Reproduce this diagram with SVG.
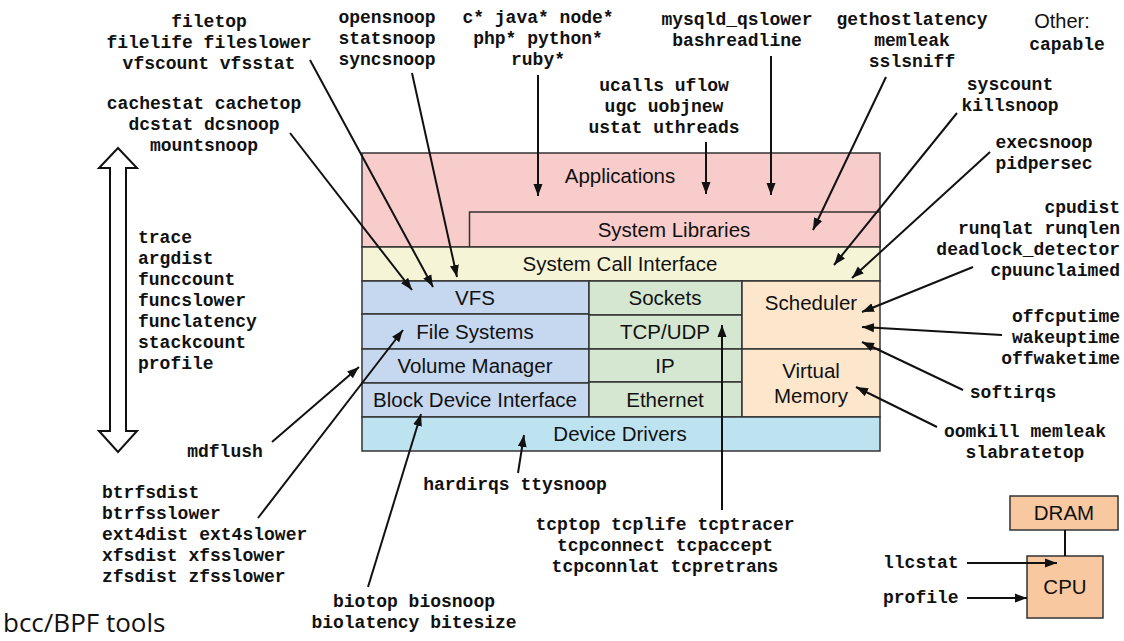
<svg xmlns="http://www.w3.org/2000/svg" width="1124" height="641" viewBox="0 0 1124 641">
<style>
.bx{stroke:#333;stroke-width:1.5}
.lb{font-family:"Liberation Sans",Arial,sans-serif;font-size:20.5px;fill:#111;text-anchor:middle}
.m{font-family:"Liberation Mono","Courier New",monospace;font-size:18px;font-weight:bold;fill:#111}
.c{text-anchor:middle}
.e{text-anchor:end}
.ln{stroke:#111;stroke-width:2;fill:none}
.ar{marker-end:url(#ah)}
</style>
<defs>
<marker id="ah" markerUnits="userSpaceOnUse" markerWidth="13" markerHeight="10" refX="12" refY="5" orient="auto">
<path d="M0,0.5 L12,5 L0,9.5 z" fill="#111"/>
</marker>
</defs>
<rect width="1124" height="641" fill="#fff"/>

<g id="applications"><rect class="bx" x="362" y="153" width="518" height="94" fill="#f8cccb"/><text class="lb" x="620" y="183">Applications</text></g>
<g id="system-libraries"><rect class="bx" x="469.5" y="212" width="410.5" height="35" fill="#f8cccb"/><text class="lb" x="674" y="237">System Libraries</text></g>
<g id="syscall"><rect class="bx" x="362" y="247" width="518" height="34" fill="#f6f4d6"/><text class="lb" x="620" y="271">System Call Interface</text></g>
<g id="vfs"><rect class="bx" x="362" y="281" width="227" height="33" fill="#c6d8ef"/><text class="lb" x="475" y="305">VFS</text></g>
<g id="filesystems"><rect class="bx" x="362" y="314" width="227" height="35" fill="#c6d8ef"/><text class="lb" x="475" y="339">File Systems</text></g>
<g id="volume-manager"><rect class="bx" x="362" y="349" width="227" height="34" fill="#c6d8ef"/><text class="lb" x="475" y="373">Volume Manager</text></g>
<g id="block-device"><rect class="bx" x="362" y="383" width="227" height="34" fill="#c6d8ef"/><text class="lb" x="475" y="407">Block Device Interface</text></g>
<g id="sockets"><rect class="bx" x="589" y="281" width="153" height="34" fill="#d5e7d0"/><text class="lb" x="665" y="305">Sockets</text></g>
<g id="tcpudp"><rect class="bx" x="589" y="315" width="153" height="34" fill="#d5e7d0"/><text class="lb" x="665" y="339">TCP/UDP</text></g>
<g id="ip"><rect class="bx" x="589" y="349" width="153" height="33" fill="#d5e7d0"/><text class="lb" x="665" y="373">IP</text></g>
<g id="ethernet"><rect class="bx" x="589" y="382" width="153" height="35" fill="#d5e7d0"/><text class="lb" x="665" y="407">Ethernet</text></g>
<g id="scheduler"><rect class="bx" x="742" y="281" width="138" height="68" fill="#fce6cc"/><text class="lb" x="811" y="310">Scheduler</text></g>
<g id="virtual-memory"><rect class="bx" x="742" y="349" width="138" height="68" fill="#fce6cc"/><text class="lb" x="811" y="378">Virtual</text><text class="lb" x="811" y="403">Memory</text></g>
<g id="device-drivers"><rect class="bx" x="362" y="417" width="518" height="34" fill="#bde3f1"/><text class="lb" x="620" y="441">Device Drivers</text></g>
<g id="dram"><rect class="bx" x="1010" y="496" width="108" height="34" fill="#f8c9a0"/><text class="lb" x="1064" y="520">DRAM</text></g>
<g id="cpu"><rect class="bx" x="1027" y="556" width="76" height="62" fill="#f8c9a0"/><text class="lb" x="1065" y="594">CPU</text></g>

<g id="double-arrow"><path d="M118,148 L137,168 L126,168 L126,431 L137,431 L118,452 L99,431 L110,431 L110,168 L99,168 Z" fill="#fff" stroke="#111" stroke-width="2" stroke-linejoin="miter"/></g>

<g id="labels">
<text class="m c" x="209" y="27">filetop</text>
<text class="m c" x="209" y="48">filelife fileslower</text>
<text class="m c" x="209" y="69">vfscount vfsstat</text>
<text class="m c" x="204" y="109">cachestat cachetop</text>
<text class="m c" x="204" y="130">dcstat dcsnoop</text>
<text class="m c" x="204" y="151">mountsnoop</text>
<text class="m c" x="387" y="23">opensnoop</text>
<text class="m c" x="387" y="44">statsnoop</text>
<text class="m c" x="387" y="65">syncsnoop</text>
<text class="m c" x="538" y="23">c* java* node*</text>
<text class="m c" x="538" y="44">php* python*</text>
<text class="m c" x="538" y="65">ruby*</text>
<text class="m c" x="737" y="25">mysqld_qslower</text>
<text class="m c" x="737" y="46">bashreadline</text>
<text class="m c" x="664" y="91">ucalls uflow</text>
<text class="m c" x="664" y="112">ugc uobjnew</text>
<text class="m c" x="664" y="133">ustat uthreads</text>
<text class="m c" x="912" y="25">gethostlatency</text>
<text class="m c" x="912" y="46">memleak</text>
<text class="m c" x="912" y="67">sslsniff</text>
<text x="1062" y="28" style="font-family:'Liberation Sans',Arial,sans-serif;font-size:20px;fill:#111;text-anchor:middle">Other:</text>
<text class="m c" x="1067" y="50">capable</text>
<text class="m c" x="1010" y="90">syscount</text>
<text class="m c" x="1010" y="111">killsnoop</text>
<text class="m c" x="1044" y="148">execsnoop</text>
<text class="m c" x="1044" y="169">pidpersec</text>
<text class="m e" x="1120" y="213">cpudist</text>
<text class="m e" x="1120" y="234">runqlat runqlen</text>
<text class="m e" x="1120" y="255">deadlock_detector</text>
<text class="m e" x="1120" y="276">cpuunclaimed</text>
<text class="m e" x="1120" y="322">offcputime</text>
<text class="m e" x="1120" y="343">wakeuptime</text>
<text class="m e" x="1120" y="364">offwaketime</text>
<text class="m c" x="1013" y="398">softirqs</text>
<text class="m c" x="1025" y="437">oomkill memleak</text>
<text class="m c" x="1025" y="458">slabratetop</text>
<text class="m" x="138" y="243">trace</text>
<text class="m" x="138" y="264">argdist</text>
<text class="m" x="138" y="285">funccount</text>
<text class="m" x="138" y="306">funcslower</text>
<text class="m" x="138" y="327">funclatency</text>
<text class="m" x="138" y="348">stackcount</text>
<text class="m" x="138" y="369">profile</text>
<text class="m c" x="225" y="457">mdflush</text>
<text class="m" x="102" y="498">btrfsdist</text>
<text class="m" x="102" y="519">btrfsslower</text>
<text class="m" x="102" y="540">ext4dist ext4slower</text>
<text class="m" x="102" y="561">xfsdist xfsslower</text>
<text class="m" x="102" y="582">zfsdist zfsslower</text>
<text class="m c" x="515" y="490">hardirqs ttysnoop</text>
<text class="m c" x="665" y="530">tcptop tcplife tcptracer</text>
<text class="m c" x="665" y="551">tcpconnect tcpaccept</text>
<text class="m c" x="665" y="572">tcpconnlat tcpretrans</text>
<text class="m c" x="414" y="607">biotop biosnoop</text>
<text class="m c" x="414" y="628">biolatency bitesize</text>
<text class="m" x="883" y="568">llcstat</text>
<text class="m" x="883" y="603">profile</text>
<text x="3" y="632" style="font-family:'Open Sans','Liberation Sans',sans-serif;font-size:26px;font-weight:normal;fill:#111">bcc/BPF tools</text>
</g>

<g id="connectors">
<line class="ln ar" x1="290" y1="133" x2="412" y2="290"/>
<line class="ln ar" x1="310" y1="60" x2="433" y2="287"/>
<line class="ln ar" x1="412" y1="73" x2="457" y2="277"/>
<line class="ln ar" x1="538" y1="75" x2="538" y2="196"/>
<line class="ln ar" x1="706" y1="142" x2="706" y2="194"/>
<line class="ln ar" x1="771" y1="56" x2="771" y2="195"/>
<line class="ln ar" x1="886" y1="77" x2="813" y2="230"/>
<line class="ln ar" x1="957" y1="113" x2="834" y2="265"/>
<line class="ln ar" x1="990" y1="152" x2="852" y2="278"/>
<line class="ln ar" x1="973" y1="267" x2="862" y2="312"/>
<line class="ln ar" x1="1002" y1="335" x2="862" y2="327"/>
<line class="ln ar" x1="963" y1="390" x2="862" y2="342"/>
<line class="ln ar" x1="937" y1="427" x2="856" y2="387"/>
<line class="ln ar" x1="722" y1="510" x2="722" y2="325"/>
<line class="ln ar" x1="518" y1="473" x2="524" y2="435"/>
<line class="ln ar" x1="368" y1="587" x2="421" y2="414"/>
<line class="ln ar" x1="272" y1="442" x2="359" y2="367"/>
<line class="ln ar" x1="258" y1="518" x2="403" y2="330"/>
<line class="ln ar" x1="967" y1="563" x2="1057" y2="563"/>
<line class="ln ar" x1="967" y1="598" x2="1027" y2="598"/>
<line class="ln" x1="1065" y1="530" x2="1065" y2="556"/>
</g>
</svg>
